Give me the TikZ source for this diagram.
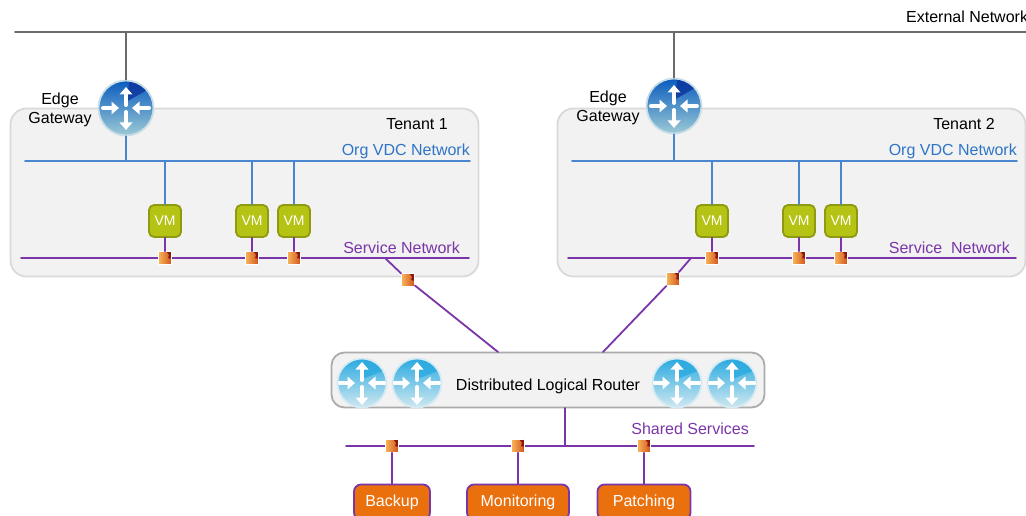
\documentclass[tikz,border=0pt]{standalone}
\usepackage{fontspec}
\setmainfont{Liberation Sans}
\usetikzlibrary{arrows.meta}
\definecolor{extgray}{HTML}{6B6B6B}
\definecolor{orgblue}{HTML}{4A86D0}
\definecolor{orgtext}{HTML}{2E75C5}
\definecolor{svcpurple}{HTML}{7A35A8}
\definecolor{panelfill}{HTML}{F2F2F2}
\definecolor{vmgreen}{HTML}{B5C314}
\definecolor{vmedge}{HTML}{8F9A10}
\definecolor{leaforange}{HTML}{EA700D}
\definecolor{gwtop}{HTML}{0A5CBE}
\definecolor{gwmid}{HTML}{125C88}
\definecolor{gwbot}{HTML}{9CCAD6}
\definecolor{gwfacet}{HTML}{0A2F9A}
\definecolor{gwring}{HTML}{C8DDE6}
\definecolor{dlrtop}{HTML}{2BAAE0}
\definecolor{dlrmid}{HTML}{6FC0E0}
\definecolor{dlrbot}{HTML}{CFE8F0}
\definecolor{dlrring}{HTML}{D5EAF2}
\definecolor{portlight}{HTML}{F7B55A}
\definecolor{portdark}{HTML}{D0541C}
\definecolor{portred}{HTML}{8A1A10}
\newcommand{\routerarrows}[1]{%
	\begin{scope}[shift={(path picture bounding box.center)}, scale=#1, white, line width=4pt, -{Triangle[width=12.5pt,length=7.5pt]}]
		\draw (0,-3)--(0,-21);
		\draw (0,4)--(0,22);
		\draw (-23,0)--(-7,0);
		\draw (23,0)--(6,0);
	\end{scope}}
\begin{document}
\begin{tikzpicture}[x=1pt, y=-1pt, line cap=round, line join=round, font=\fontsize{16}{18.5}\selectfont]
	\tikzset{
		panel/.style={draw=#1, fill=panelfill, line width=1.8pt, rounded corners=16pt},
		extnet/.style={draw=extgray, line width=1.8pt},
		orgnet/.style={draw=orgblue, line width=1.8pt},
		svcnet/.style={draw=svcpurple, line width=1.8pt},
		edgerouter/.style={circle, inner sep=0, minimum size=55pt, draw=gwring, line width=1.8pt, top color=gwtop, middle color=gwmid, bottom color=gwbot,
			path picture={\fill[gwfacet, opacity=.75, shift={(path picture bounding box.center)}] (0,-6)--(4,-30)--(28,-22)--cycle; \routerarrows{1}}},
		dlrrouter/.style={circle, inner sep=0, minimum size=49pt, draw=dlrring, line width=1.8pt, top color=dlrtop, middle color=dlrmid, bottom color=dlrbot,
			path picture={\fill[dlrtop, opacity=.8, shift={(path picture bounding box.center)}] (0,-4)--(4,-28)--(26,-14)--cycle; \routerarrows{.9}}},
		vmbox/.style={draw=vmedge, fill=vmgreen, line width=1.8pt, rounded corners=5pt, minimum size=32pt, inner sep=0, text=white, font=\fontsize{14}{16}\selectfont},
		port/.style={draw=white, line width=.8pt, left color=portlight, right color=portdark, minimum size=13pt, inner sep=0,
			path picture={\fill[portred, shift={(path picture bounding box.center)}] (1,-7)--(7,-7)--(7,1)--(3,0)--(4,-3)--cycle;}},
		leaf/.style={draw=svcpurple, fill=leaforange, line width=1.8pt, rounded corners=7pt, minimum height=35pt, inner sep=0, text=white},
		netlabel/.style={inner sep=0, anchor=east}
	}
	\useasboundingbox (0,0) rectangle (1026,516);

	% external network
	\coordinate (extw) at (15,32);
	\coordinate (exte) at (1026,32);
	\draw[extnet] (extw)--(exte);
	\node (extlabel) at (906,16.5)[inner sep=0, anchor=west]{External Network};

	% tenants
	\foreach \t/\dx/\sx/\svc in {1/0/460/Service Network, 2/547/463/Service\ \ Network}{
		\begin{scope}[xshift=\dx pt]
			\node (tenant\t) at (244.5,192.5)[panel={black!15}, minimum width=468pt, minimum height=168pt]{};
			\node (tenantlabel\t) at (417,124)[inner sep=0]{Tenant \t};
			\coordinate (orgw\t) at (25,161);
			\coordinate (orge\t) at (470,161);
			\coordinate (svcw\t) at (21,258);
			\coordinate (svce\t) at (469,258);
			\draw[orgnet] (orgw\t)--(orge\t);
			\draw[svcnet] (svcw\t)--(svce\t);
			\node (orglabel\t) at (470,151)[netlabel, text=orgtext]{Org VDC Network};
			\node (svclabel\t) at (\sx,248)[netlabel, text=svcpurple]{\svc};
			\foreach \v/\vx in {a/165, b/252, c/294}{
				\node (vm\t\v) at (\vx,221)[vmbox]{VM};
				\node (port\t\v) at (\vx,258)[port]{};
				\draw[orgnet] (vm\t\v)--(vm\t\v |- orgw\t);
				\draw[svcnet] (vm\t\v)--(port\t\v);
			}
		\end{scope}
	}

	% edge gateways
	\foreach \t/\gx/\gy in {1/126/108, 2/674/106}{
		\node (gateway\t) at (\gx,\gy)[edgerouter]{};
		\coordinate (extdrop\t) at (\gx,32);
		\draw[extnet] (extdrop\t)--(gateway\t);
		\draw[orgnet] (gateway\t)--(gateway\t |- orgw\t);
	}
	\node (gwlabel1) at (60,110)[align=center, inner sep=0]{Edge\\Gateway};
	\node (gwlabel2) at (608,108)[align=center, inner sep=0]{Edge\\Gateway};

	% distributed router
	\node (dlr) at (548,380)[panel={black!33}, rounded corners=13pt, minimum width=433pt, minimum height=55pt]{};
	\node (dlrlabel) at (548,386)[inner sep=0]{Distributed Logical Router};
	\foreach \r/\rx in {a/362, b/417, c/677, d/732}{
		\node (dlr\r) at (\rx,383)[dlrrouter]{};
	}

	% uplinks
	\coordinate (tap1) at (385,258);
	\coordinate (tap2) at (691,258);
	\coordinate (dlrin1) at (498,352);
	\coordinate (dlrin2) at (603,352);
	\node (uplink1) at (408,280)[port]{};
	\node (uplink2) at (673,279)[port]{};
	\draw[svcnet] (tap1)--(uplink1)--(dlrin1);
	\draw[svcnet] (tap2)--(uplink2)--(dlrin2);

	% shared services
	\coordinate (sharedw) at (346,446);
	\coordinate (sharede) at (754,446);
	\coordinate (dlrout) at (565,408);
	\draw[svcnet] (sharedw)--(sharede);
	\draw[svcnet] (dlrout)--(dlrout |- sharedw);
	\node (sharedlabel) at (749,429)[netlabel, text=svcpurple]{Shared Services};
	\foreach \n/\nx/\w/\txt in {backup/392/76/Backup, monitoring/518/102/Monitoring, patching/644/93/Patching}{
		\node (\n) at (\nx,502)[leaf, minimum width=\w pt]{\txt};
		\node (port\n) at (\nx,446)[port]{};
		\draw[svcnet] (port\n)--(\n);
	}
\end{tikzpicture}
\end{document}
